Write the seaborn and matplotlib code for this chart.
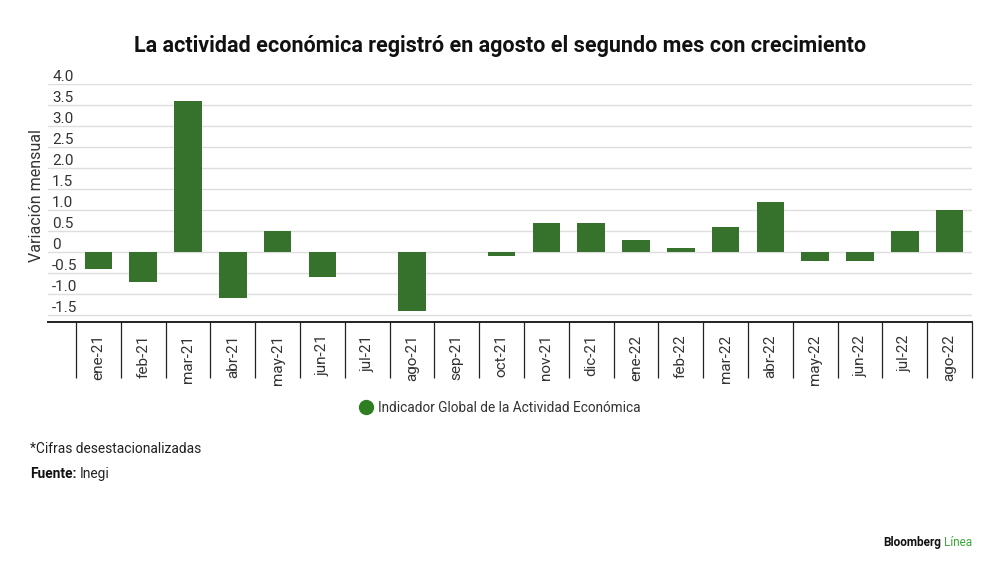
import numpy as np
import pandas as pd
import matplotlib
matplotlib.use("Agg")
import matplotlib.pyplot as plt
import seaborn as sns
from matplotlib.lines import Line2D

meses = ["ene-21", "feb-21", "mar-21", "abr-21", "may-21", "jun-21", "jul-21",
         "ago-21", "sep-21", "oct-21", "nov-21", "dic-21", "ene-22", "feb-22",
         "mar-22", "abr-22", "may-22", "jun-22", "jul-22", "ago-22"]
variacion = [-0.4, -0.7, 3.6, -1.1, 0.5, -0.6, 0.0, -1.4, 0.0, -0.1,
             0.7, 0.7, 0.3, 0.1, 0.6, 1.2, -0.2, -0.2, 0.5, 1.0]
y_ticks = [-1.5, -1.0, -0.5, 0, 0.5, 1.0, 1.5, 2.0, 2.5, 3.0, 3.5, 4.0]
y_labels = ["-1.5", "-1.0", "-0.5", "0", "0.5", "1.0", "1.5", "2.0", "2.5", "3.0", "3.5", "4.0"]

titulo = "La actividad económica registró en agosto el segundo mes con crecimiento"
serie = "Indicador Global de la Actividad Económica"

verde = "#2f7d21"
gris_txt = "#333333"

sns.set_theme(style="white")
plt.rcParams["font.family"] = ["Roboto", "DejaVu Sans"]

df = pd.DataFrame({"mes": meses, "valor": variacion})

fig = plt.figure(figsize=(10, 5.69), dpi=100)
ax = fig.add_axes([0.048, 0.4341, 0.924, 0.4183])

sns.barplot(data=df, x="mes", y="valor", color=verde, width=0.62,
            linewidth=0, ax=ax, zorder=3)

ax.set_xlim(-1.125, len(meses) - 0.5)
ax.set_ylim(-1.66, 4.0)

# gridlines with labels sitting on top of them
ax.set_yticks(y_ticks)
ax.set_yticklabels(y_labels)
for t in y_ticks:
    ax.axhline(t, color="#dedede", lw=1, zorder=1)
ax.tick_params(axis="y", length=0, pad=-3, labelsize=11, labelcolor=gris_txt)
for lab in ax.get_yticklabels():
    lab.set_horizontalalignment("left")
    lab.set_verticalalignment("bottom")

# category cells below the axis
ax.set_xticks(np.arange(len(meses)))
ax.set_xticklabels(meses, rotation=90)
ax.set_xticks(np.arange(len(meses) + 1) - 0.5, minor=True)
ax.tick_params(axis="x", which="major", bottom=False, length=0, pad=9,
               labelsize=11, labelcolor=gris_txt)
ax.tick_params(axis="x", which="minor", bottom=True, length=40, width=0.9,
               color="#222222", direction="out")

for s in ["top", "right", "left"]:
    ax.spines[s].set_visible(False)
ax.spines["bottom"].set_color("#222222")
ax.spines["bottom"].set_linewidth(1.4)
ax.set_xlabel("")
ax.set_ylabel("")

fig.text(0.037, 0.657, "Variación mensual", rotation=90, ha="center", va="center",
         fontsize=11.5, color=gris_txt)

fig.text(0.5, 0.919, titulo, ha="center", va="center", fontsize=15.5,
         fontweight="bold", color="#111111")

handle = Line2D([], [], marker="o", linestyle="none", markersize=10,
                markerfacecolor=verde, markeredgecolor=verde)
fig.legend([handle], [serie], loc="center", bbox_to_anchor=(0.5, 0.283),
           frameon=False, fontsize=9.8, handlelength=1.0, handletextpad=0.35,
           labelcolor=gris_txt)

fig.text(0.03, 0.211, "*Cifras desestacionalizadas", ha="left", va="center",
         fontsize=9.9, color="#222222")
fuente = fig.text(0.03, 0.167, "Fuente:", ha="left", va="center",
                  fontsize=9.9, fontweight="bold", color="#111111")

linea = fig.text(0.972, 0.047, "Línea", ha="right", va="center",
                 fontsize=8.5, color="#3aa83a")

fig.canvas.draw()
r = fig.canvas.get_renderer()
bb = fuente.get_window_extent(r)
fig.text((bb.x1 + 3) / fig.bbox.width, 0.167, "Inegi", ha="left", va="center",
         fontsize=9.9, color="#222222")
bb2 = linea.get_window_extent(r)
fig.text((bb2.x0 - 3) / fig.bbox.width, 0.047, "Bloomberg", ha="right", va="center",
         fontsize=8.5, fontweight="bold", color="#111111")

fig.savefig("out.png", dpi=100, facecolor="white")
